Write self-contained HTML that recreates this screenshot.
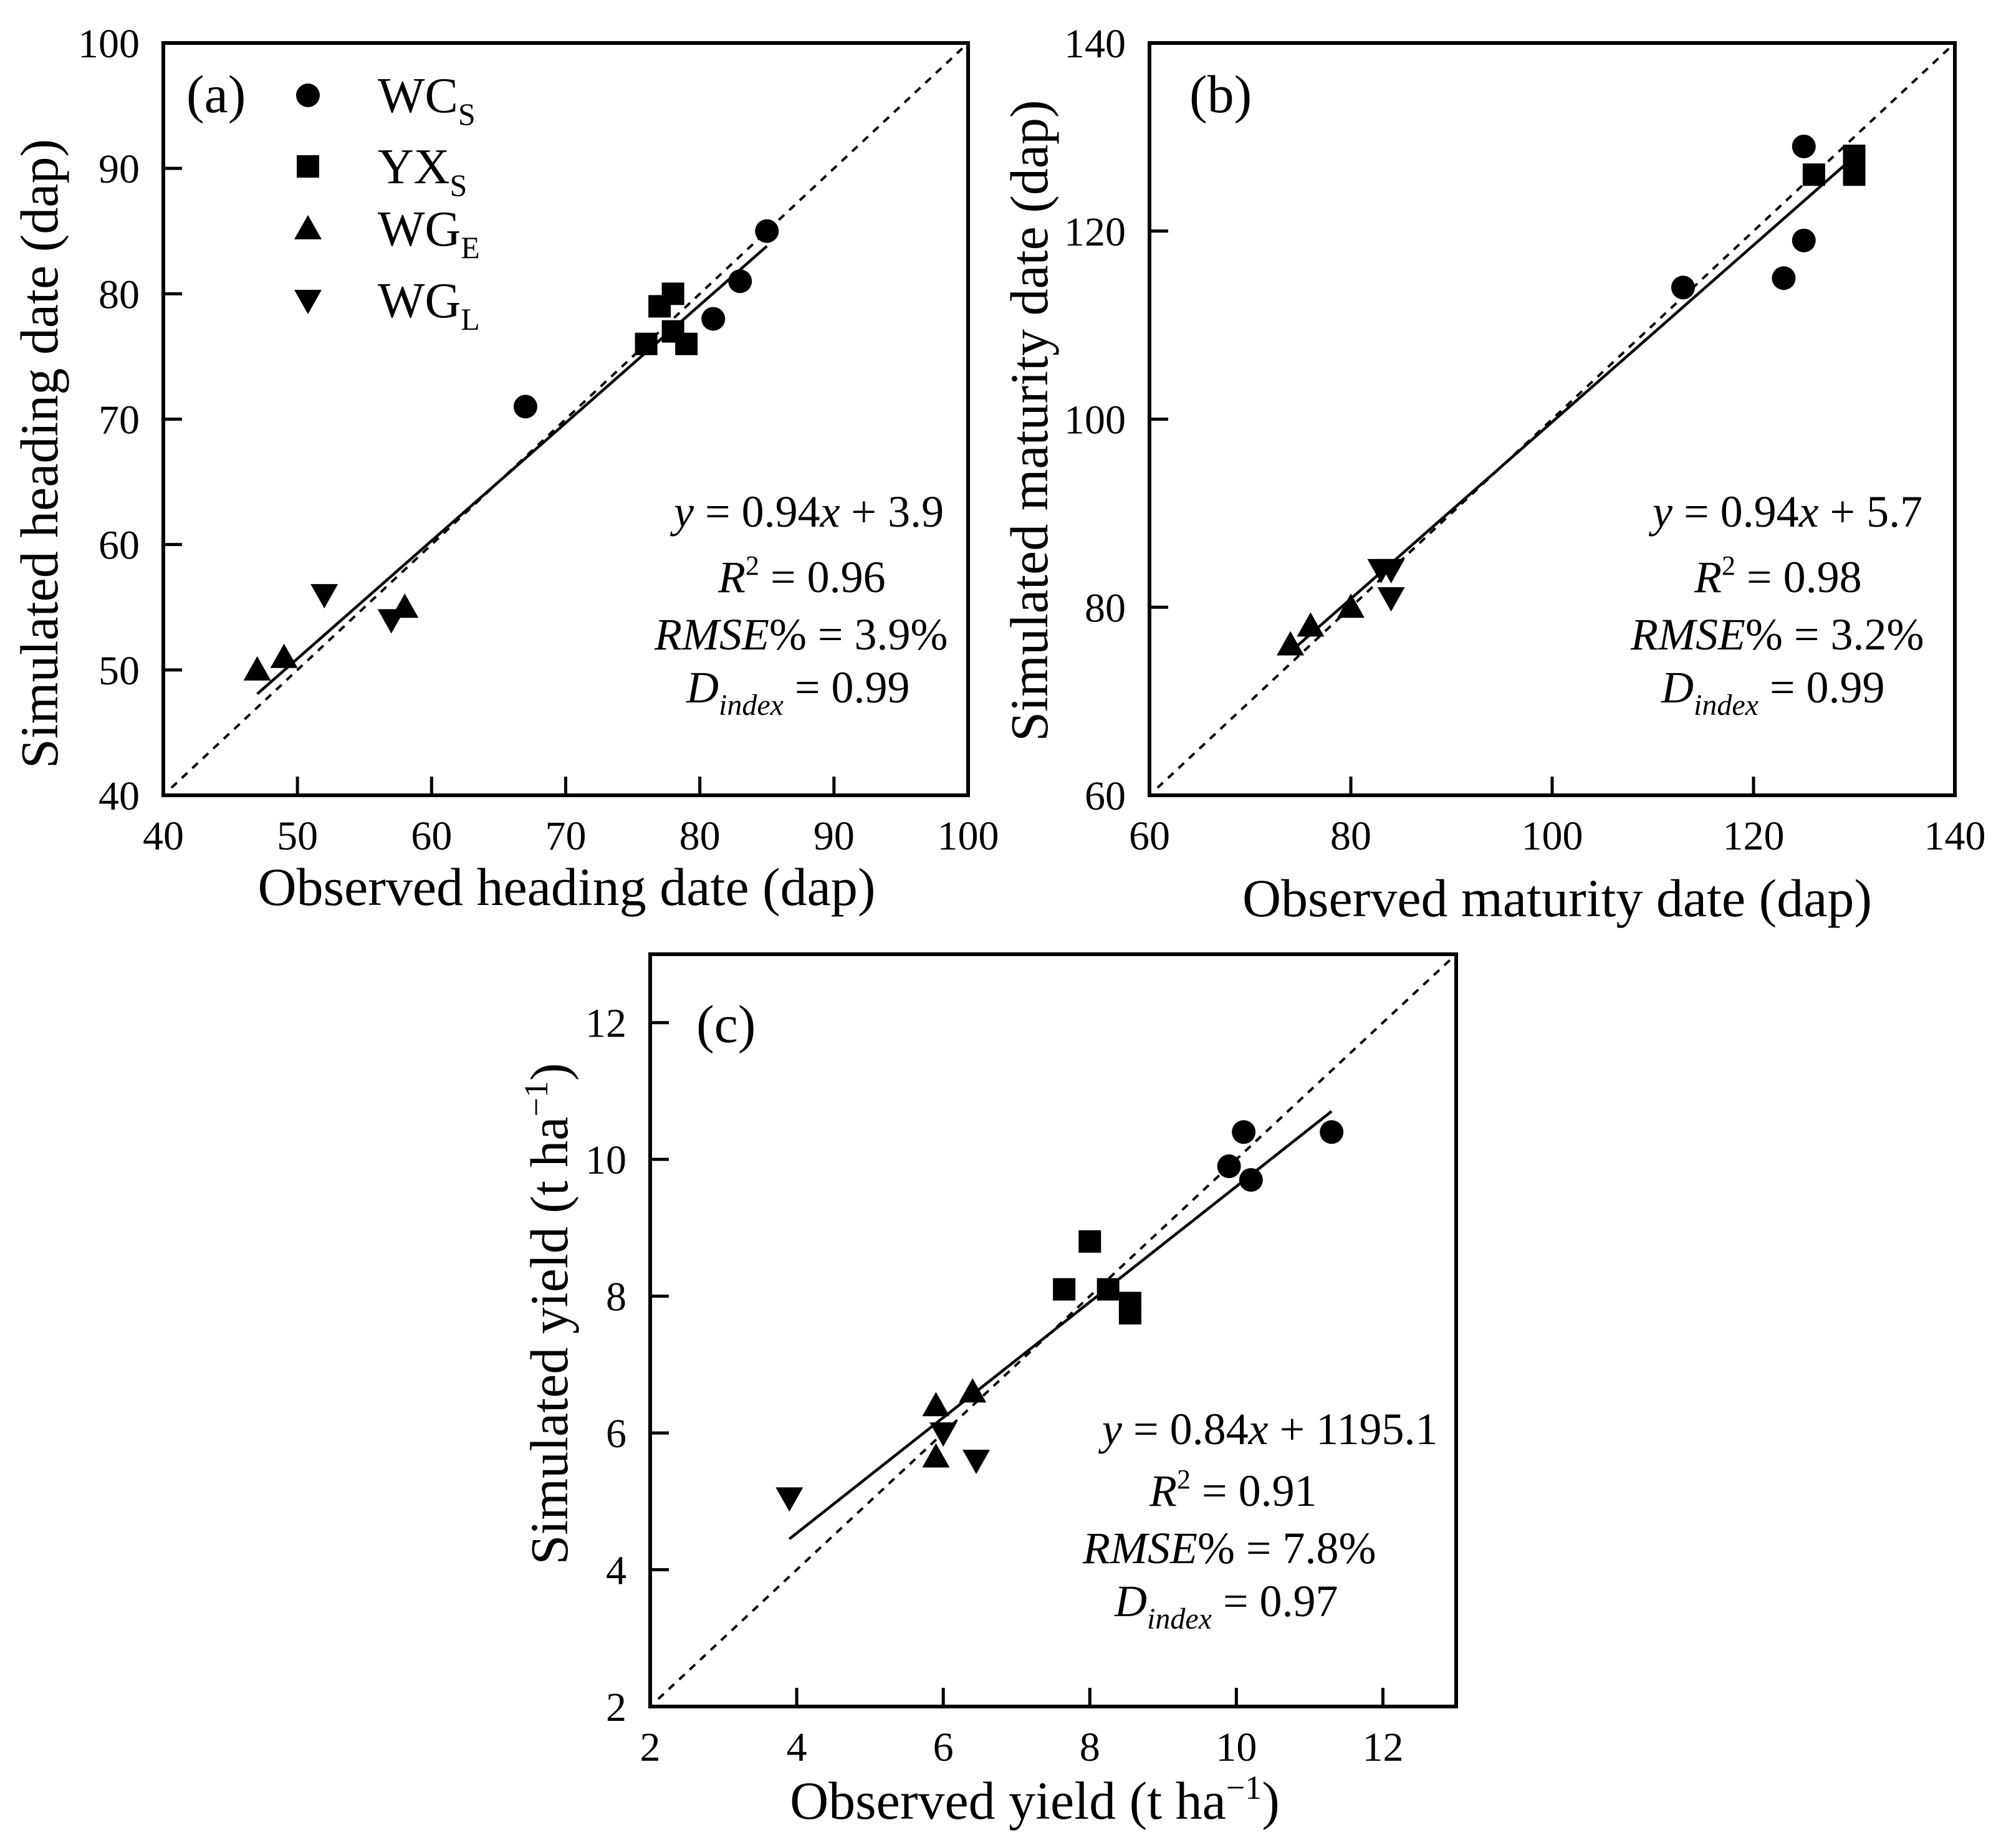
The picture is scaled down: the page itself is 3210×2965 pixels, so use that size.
<!DOCTYPE html>
<html><head><meta charset="utf-8"><style>
html,body{margin:0;padding:0;background:#fff;}
svg{display:block;}
text{font-family:"Liberation Serif",serif;}
</style></head><body>
<svg id="fig" width="3210" height="2965" viewBox="0 0 3210 2965" xmlns="http://www.w3.org/2000/svg"></svg>
<script>
// ---- data arrays ----
const aWCx=[67,81,83,85], aWCy=[71,78,81,85];
const aYXx=[76,77,78,78,79], aYXy=[76,79,80,77,76];
const aWGEx=[47,49,58], aWGEy=[50,51,55];
const aWGLx=[52,57], aWGLy=[56,54];
const aFit=[0.94,3.9], aFitRange=[47,85];
const aTicks=[40,50,60,70,80,90,100];

const bWCx=[113,123,125,125], bWCy=[114,115,119,129];
const bYXx=[126,130,130], bYXy=[126,126,128];
const bWGEx=[74,76,80], bWGEy=[76,78,80];
const bWGLx=[83,84,84], bWGLy=[84,84,81];
const bFit=[0.94,5.7], bFitRange=[74,130];
const bTicks=[60,80,100,120,140];

const cWCx=[9.9,10.1,10.2,11.3], cWCy=[9.9,10.4,9.7,10.4];
const cYXx=[7.65,8.0,8.25,8.55,8.55], cYXy=[8.1,8.8,8.1,7.9,7.75];
const cWGEx=[5.9,6.4,5.9], cWGEy=[6.4,6.6,5.65];
const cWGLx=[3.9,6.0,6.45], cWGLy=[5.05,6.0,5.6];
const cFit=[0.845,1.155], cFitRange=[3.9,11.3];
const cTicks=[2,4,6,8,10,12];

const NS="http://www.w3.org/2000/svg";
const svg=document.getElementById('fig');
function mk(tag,attrs,parent){const e=document.createElementNS(NS,tag);for(const k in attrs)e.setAttribute(k,attrs[k]);(parent||svg).appendChild(e);return e;}

function marker(g,type,cx,cy){
  let e;
  if(type==='circle'){e=mk('circle',{cx:cx,cy:cy,r:19,fill:'#000'},g);}
  else if(type==='square'){e=mk('rect',{x:cx-18,y:cy-18,width:36,height:36,fill:'#000'},g);}
  else if(type==='up'){e=mk('polygon',{points:`${cx},${cy-22} ${cx-22},${cy+17} ${cx+22},${cy+17}`,fill:'#000'},g);}
  else {e=mk('polygon',{points:`${cx},${cy+22} ${cx-22},${cy-17} ${cx+22},${cy-17}`,fill:'#000'},g);}
  return e;
}

function panel(p){
  const g=mk('g',{});
  
  
  const sx=v=>p.x0+(v-p.min)/(p.max-p.min)*(p.x1-p.x0);
  const sy=v=>p.y0-(v-p.min)/(p.max-p.min)*(p.y0-p.y1);
  const st=p.min+0.6*(p.max-p.min)/60;
  const d=mk('line',{x1:sx(st),y1:sy(st),x2:sx(p.max),y2:sy(p.max),stroke:'#000','stroke-width':4,'stroke-dasharray':'12,11'},g);
  
  
  const f=mk('line',{x1:sx(p.fitR[0]),y1:sy(p.fit[0]*p.fitR[0]+p.fit[1]),x2:sx(p.fitR[1]),y2:sy(p.fit[0]*p.fitR[1]+p.fit[1]),stroke:'#000','stroke-width':4.5},g);
  
  
  const b=mk('rect',{x:p.x0,y:p.y1,width:p.x1-p.x0,height:p.y0-p.y1,fill:'none',stroke:'#000','stroke-width':6},g);
  
  
  p.ticks.forEach(t=>{
    if(t>p.min&&t<p.max){
      mk('line',{x1:sx(t),y1:p.y0,x2:sx(t),y2:p.y0-30,stroke:'#000','stroke-width':5},g);
      mk('line',{x1:p.x0,y1:sy(t),x2:p.x0+30,y2:sy(t),stroke:'#000','stroke-width':5},g);
    }
    const xl=mk('text',{x:sx(t),y:p.y0+87,'font-size':66,'text-anchor':'middle'},g);
    xl.textContent=t;
    
    
    const yl=mk('text',{x:p.x0-38,y:sy(t)+23,'font-size':66,'text-anchor':'end'},g);
    yl.textContent=t;
    
    
  });
  const series=[['circle',p.wc[0],p.wc[1],'wcs-point'],['square',p.yx[0],p.yx[1],'yxs-point'],['up',p.ge[0],p.ge[1],'wge-point'],['down',p.gl[0],p.gl[1],'wgl-point']];
  series.forEach(s=>{
    s[1].forEach((xv,i)=>{
      const m=marker(g,s[0],sx(xv),sy(s[2][i]));
      
      
    });
  });
  return g;
}

panel({name:'panel-a',x0:262,x1:1553,y0:1276,y1:69,min:40,max:100,ticks:aTicks,wc:[aWCx,aWCy],yx:[aYXx,aYXy],ge:[aWGEx,aWGEy],gl:[aWGLx,aWGLy],fit:aFit,fitR:aFitRange});
panel({name:'panel-b',x0:1844,x1:3136,y0:1276,y1:69,min:60,max:140,ticks:bTicks,wc:[bWCx,bWCy],yx:[bYXx,bYXy],ge:[bWGEx,bWGEy],gl:[bWGLx,bWGLy],fit:bFit,fitR:bFitRange});
panel({name:'panel-c',x0:1043,x1:2336,y0:2738,y1:1531,min:2,max:13,ticks:cTicks,wc:[cWCx,cWCy],yx:[cYXx,cYXy],ge:[cWGEx,cWGEy],gl:[cWGLx,cWGLy],fit:cFit,fitR:cFitRange});

[['circle',153,'legend-marker-wcs'],['square',267,'legend-marker-yxs'],['up',367,'legend-marker-wge'],['down',482,'legend-marker-wgl']].forEach(l=>{
  const m=marker(svg,l[0],494,l[1]);
  
  
});
</script>
<svg width="3210" height="2965" style="position:absolute;left:0;top:0;" xmlns="http://www.w3.org/2000/svg">
 <g>
  <text x="606" y="180" font-size="80">WC<tspan font-size="50" dy="20">S</tspan></text>
  <text x="606" y="294" font-size="80">YX<tspan font-size="50" dy="20">S</tspan></text>
  <text x="606" y="394" font-size="80">WG<tspan font-size="50" dy="20">E</tspan></text>
  <text x="606" y="509" font-size="80">WG<tspan font-size="50" dy="20">L</tspan></text>
  <text x="299" y="180" font-size="86">(a)</text>
  <text x="1908" y="180" font-size="86">(b)</text>
  <text x="1117" y="1672" font-size="86">(c)</text>
  <text x="909" y="1452" font-size="86" text-anchor="middle">Observed heading date (dap)</text>
  <text transform="translate(92,728) rotate(-90)" font-size="86" text-anchor="middle">Simulated heading date (dap)</text>
  <text x="2498" y="1470" font-size="86" text-anchor="middle">Observed maturity date (dap)</text>
  <text transform="translate(1680,675) rotate(-90)" font-size="86" text-anchor="middle">Simulated maturity date (dap)</text>
  <text x="1660" y="2918" font-size="86" text-anchor="middle">Observed yield (t ha<tspan font-size="54" dy="-32">−1</tspan><tspan dy="32">)</tspan></text>
  <text transform="translate(910,2108) rotate(-90)" font-size="86" text-anchor="middle">Simulated yield (t ha<tspan font-size="54" dy="-32">−1</tspan><tspan dy="32">)</tspan></text>
  <g font-size="72">
    <text x="1081" y="845"><tspan font-style="italic">y</tspan> = 0.94<tspan font-style="italic">x</tspan> + 3.9</text>
    <text x="1152" y="950"><tspan font-style="italic">R</tspan><tspan font-size="44" dy="-28">2</tspan><tspan dy="28"> = 0.96</tspan></text>
    <text x="1050" y="1042"><tspan font-style="italic">RMSE</tspan>% = 3.9%</text>
    <text x="1101" y="1127"><tspan font-style="italic">D</tspan><tspan font-style="italic" font-size="48" dy="20">index</tspan><tspan dy="-20"> = 0.99</tspan></text>
  </g>
  <g font-size="72">
    <text x="2651" y="845"><tspan font-style="italic">y</tspan> = 0.94<tspan font-style="italic">x</tspan> + 5.7</text>
    <text x="2718" y="950"><tspan font-style="italic">R</tspan><tspan font-size="44" dy="-28">2</tspan><tspan dy="28"> = 0.98</tspan></text>
    <text x="2616" y="1042"><tspan font-style="italic">RMSE</tspan>% = 3.2%</text>
    <text x="2665" y="1127"><tspan font-style="italic">D</tspan><tspan font-style="italic" font-size="48" dy="20">index</tspan><tspan dy="-20"> = 0.99</tspan></text>
  </g>
  <g font-size="72">
    <text x="1768" y="2317"><tspan font-style="italic">y</tspan> = 0.84<tspan font-style="italic">x</tspan> + 1195.1</text>
    <text x="1844" y="2416"><tspan font-style="italic">R</tspan><tspan font-size="44" dy="-28">2</tspan><tspan dy="28"> = 0.91</tspan></text>
    <text x="1737" y="2508"><tspan font-style="italic">RMSE</tspan>% = 7.8%</text>
    <text x="1788" y="2593"><tspan font-style="italic">D</tspan><tspan font-style="italic" font-size="48" dy="20">index</tspan><tspan dy="-20"> = 0.97</tspan></text>
  </g>
 </g>
</svg>
</body></html>
